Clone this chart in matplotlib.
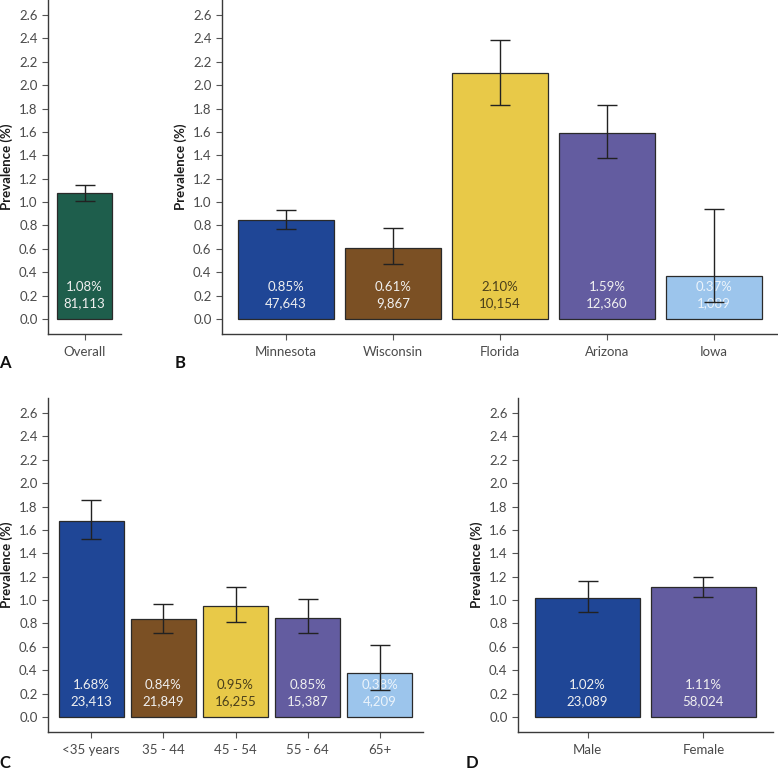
import matplotlib
matplotlib.use("Agg")
import matplotlib.pyplot as plt
import numpy as np

plt.rcParams['font.family'] = ['Lato', 'DejaVu Sans']

# ---- data ----
overall_cats = ["Overall"]
overall_vals = [1.08]
overall_lo = [1.01]
overall_hi = [1.15]
overall_n = ["81,113"]

state_cats = ["Minnesota", "Wisconsin", "Florida", "Arizona", "Iowa"]
state_vals = [0.85, 0.61, 2.10, 1.59, 0.37]
state_lo = [0.77, 0.47, 1.83, 1.38, 0.145]
state_hi = [0.93, 0.78, 2.39, 1.83, 0.94]
state_n = ["47,643", "9,867", "10,154", "12,360", "1,089"]

age_cats = ["<35 years", "35 - 44", "45 - 54", "55 - 64", "65+"]
age_vals = [1.68, 0.84, 0.95, 0.85, 0.38]
age_lo = [1.52, 0.72, 0.81, 0.715, 0.235]
age_hi = [1.855, 0.97, 1.11, 1.01, 0.62]
age_n = ["23,413", "21,849", "16,255", "15,387", "4,209"]

sex_cats = ["Male", "Female"]
sex_vals = [1.02, 1.11]
sex_lo = [0.90, 1.025]
sex_hi = [1.16, 1.195]
sex_n = ["23,089", "58,024"]

yticks = [0.0, 0.2, 0.4, 0.6, 0.8, 1.0, 1.2, 1.4, 1.6, 1.8, 2.0, 2.2, 2.4, 2.6]

GREEN = "#1e5e4c"
BLUE = "#1f4696"
BROWN = "#7b5024"
YELLOW = "#e8c948"
PURPLE = "#635ca0"
LIGHT = "#9cc5ec"

W, H = 778, 774
fig = plt.figure(figsize=(W / 100, H / 100), dpi=100)

def px_axes(x0, y0, x1, y1):
    return fig.add_axes([x0 / W, 1 - y1 / H, (x1 - x0) / W, (y1 - y0) / H])

TICK_COL = "#555555"
SPINE_COL = "#3a3a3a"

def panel(ax, cats, vals, lo, hi, ns, colors, txtcols, txtalpha):
    x = np.arange(len(cats))
    ax.bar(x, vals, width=0.9, color=colors, edgecolor="#2a2a2a", linewidth=0.9, zorder=2)
    for i, (v, n) in enumerate(zip(vals, ns)):
        ax.text(x[i], 0.275, f"{v:.2f}%", ha="center", va="center", fontsize=9.5,
                color=txtcols[i], alpha=txtalpha[i], zorder=3)
        ax.text(x[i], 0.14, n, ha="center", va="center", fontsize=9.5,
                color=txtcols[i], alpha=txtalpha[i], zorder=3)
    err = [np.array(vals) - np.array(lo), np.array(hi) - np.array(vals)]
    ax.errorbar(x, vals, yerr=err, fmt="none", ecolor="#222222", elinewidth=1.0,
                capsize=7.5, capthick=1.0, zorder=4)
    ax.set_xlim(-0.6, len(cats) - 0.4)
    ax.set_ylim(-0.128, 2.728)
    ax.set_yticks(yticks)
    ax.set_yticklabels([f"{t:.1f}" for t in yticks])
    ax.set_xticks(x)
    ax.set_xticklabels(cats)
    for s in ["top", "right"]:
        ax.spines[s].set_visible(False)
    for s in ["left", "bottom"]:
        ax.spines[s].set_color(SPINE_COL)
        ax.spines[s].set_linewidth(1.0)
    ax.tick_params(axis="both", color=TICK_COL, labelcolor="#4a4a4a", labelsize=9.5,
                   length=4, width=0.8, direction="out")
    ax.tick_params(axis="x", pad=5)
    ax.set_ylabel("Prevalence (%)", fontsize=9.5, color="#1a1a1a", fontweight="bold", labelpad=4)

# Panel A
axA = px_axes(48, 0, 121, 334)
panel(axA, overall_cats, overall_vals, overall_lo, overall_hi, overall_n,
      [GREEN], ["#f0f0f0"], [1.0])
# Panel B
axB = px_axes(222, 0, 778, 334)
panel(axB, state_cats, state_vals, state_lo, state_hi, state_n,
      [BLUE, BROWN, YELLOW, PURPLE, LIGHT],
      ["#f0f0f0", "#f0f0f0", "#4a3f1a", "#f0f0f0", "#ffffff"], [1, 1, 1, 1, 0.8])
# Panel C
axC = px_axes(48, 398, 423, 732)
panel(axC, age_cats, age_vals, age_lo, age_hi, age_n,
      [BLUE, BROWN, YELLOW, PURPLE, LIGHT],
      ["#f0f0f0", "#f0f0f0", "#4a3f1a", "#f0f0f0", "#ffffff"], [1, 1, 1, 1, 0.8])
# Panel D
axD = px_axes(518, 398, 773, 732)
panel(axD, sex_cats, sex_vals, sex_lo, sex_hi, sex_n,
      [BLUE, PURPLE], ["#f0f0f0", "#f0f0f0"], [1, 1])

for lbl, (px, py) in zip("ABCD", [(5, 363), (180, 363), (5, 763), (472, 763)]):
    fig.text(px / W, 1 - py / H, lbl, fontsize=12, ha="center", va="center",
             color="#111111", fontweight="bold")

fig.savefig("out.png", dpi=100)
